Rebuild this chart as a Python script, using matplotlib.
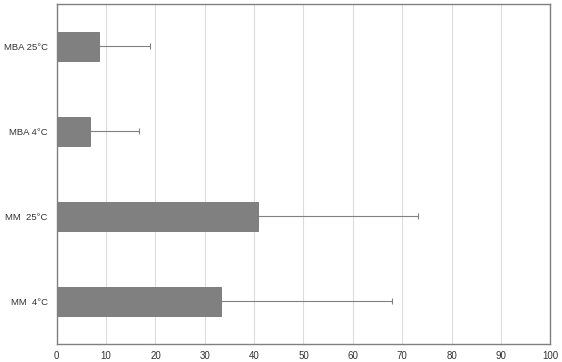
import matplotlib.pyplot as plt
import numpy as np

plt.rcParams['font.family'] = ['Liberation Sans', 'DejaVu Sans']

labels = ['MM  4°C', 'MM  25°C', 'MBA 4°C', 'MBA 25°C']
values = [33.3, 40.7, 6.8, 8.6]
errors = [34.6, 32.5, 9.8, 10.3]

fig = plt.figure(figsize=(5.62, 3.62), dpi=100)
ax = fig.add_axes([0.101, 0.050, 0.878, 0.939])

y = np.arange(len(labels))
ax.barh(y, values, height=0.34, color='#808080', edgecolor='#737373', linewidth=0.6, zorder=2)
ax.errorbar(values, y, xerr=[np.zeros(len(errors)), errors], fmt='none',
            ecolor='#808080', elinewidth=0.8, capsize=2, capthick=0.8, zorder=3)

ax.set_xlim(0, 100)
ax.set_ylim(-0.5, 3.5)
ax.set_xticks(range(0, 101, 10))
ax.set_yticks(y)
ax.set_yticklabels(labels)
ax.tick_params(axis='both', length=0, labelsize=7, colors='#333333', pad=5)
ax.tick_params(axis='y', labelsize=6.8, pad=6.5)
ax.grid(axis='x', color='#dcdcdc', linewidth=0.8, zorder=0)
for side in ['left', 'bottom', 'top', 'right']:
    ax.spines[side].set_color('#808080')
    ax.spines[side].set_linewidth(1.0)

fig.savefig('out.png', dpi=100)
